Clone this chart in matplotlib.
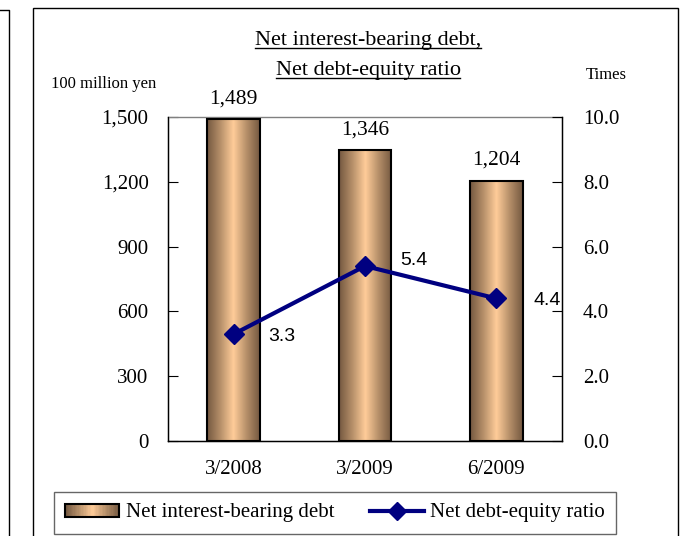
import numpy as np
import matplotlib
matplotlib.use("Agg")
import matplotlib.pyplot as plt
from matplotlib.lines import Line2D
from matplotlib.patches import Rectangle, Patch
from matplotlib.legend_handler import HandlerBase
from matplotlib.colors import LinearSegmentedColormap

# data
periods = ["3/2008", "3/2009", "6/2009"]
debt = [1489, 1346, 1204]          # 100 million yen
ratio = [3.3, 5.4, 4.4]            # times
left_ticks = [0, 300, 600, 900, 1200, 1500]
right_ticks = [0.0, 2.0, 4.0, 6.0, 8.0, 10.0]

SERIF = "Liberation Serif"
SANS = "Liberation Sans"
NAVY = "#000080"

W, H = 687, 536
fig = plt.figure(figsize=(W / 100, H / 100), dpi=100)

# bar gradient: dark edges, light peach centre
grad_cmap = LinearSegmentedColormap.from_list(
    "peach", ["#745840", "#b58f69", "#ffcc99", "#b58f69", "#745840"])
grad = np.linspace(0, 1, 256).reshape(1, -1)

ax = fig.add_axes([168 / W, 1 - 441 / H, (562 - 168) / W, (441 - 117) / H])
x = np.arange(len(periods))
bars = ax.bar(x, debt, width=0.40, facecolor="none", edgecolor="black",
              linewidth=1.5, zorder=3)
for b in bars:
    ax.imshow(grad, cmap=grad_cmap, aspect="auto", zorder=2,
              extent=(b.get_x(), b.get_x() + b.get_width(), 0, b.get_height()))
ax.set_xlim(-0.5, len(periods) - 0.5)
ax.set_ylim(0, 1500)
ax.set_yticks(left_ticks)
ax.set_yticklabels([f"{v:,}" for v in left_ticks], family=SERIF, fontsize=15)
ax.set_xticks(x)
ax.set_xticklabels(periods, family=SERIF, fontsize=15)
ax.tick_params(axis="y", direction="in", length=7, pad=14)
ax.tick_params(axis="x", length=0, pad=14)
ax.spines["top"].set_color("#808080")
for s in ax.spines.values():
    s.set_linewidth(1)

for xi, v in zip(x, debt):
    ax.annotate(f"{v:,}", (xi, v), xytext=(0, 8), textcoords="offset points",
                ha="center", va="bottom", family=SERIF, fontsize=15.5)

ax2 = ax.twinx()
ax2.plot(x, ratio, color=NAVY, linewidth=3, marker="D", markersize=10, zorder=4)
ax2.set_ylim(0, 10)
ax2.set_yticks(right_ticks)
ax2.set_yticklabels([f"{v:.1f}" for v in right_ticks], family=SERIF, fontsize=15)
ax2.tick_params(axis="y", direction="in", length=7, pad=15)
ax2.spines["right"].set_color("black")
ax2.spines["top"].set_visible(False)

label_offsets = [(25, -2), (25.5, 4.3), (27, -1.5)]
for xi, v, off in zip(x, ratio, label_offsets):
    ax2.annotate(f"{v:.1f}", (xi, v), xytext=off, textcoords="offset points",
                 ha="left", va="center", family=SANS, fontsize=14)

# axis unit labels
fig.text(104 / W, 1 - 84 / H, "100 million yen", ha="center", va="center",
         family=SERIF, fontsize=12)
fig.text(606 / W, 1 - 75 / H, "Times", ha="center", va="center",
         family=SERIF, fontsize=12)

# underlined two-line title
titles = ["Net interest-bearing debt,", "Net debt-equity ratio"]
title_y = [40, 70]
fig.canvas.draw()
renderer = fig.canvas.get_renderer()
for t, yy in zip(titles, title_y):
    txt = fig.text(368 / W, 1 - yy / H, t, ha="center", va="center",
                   family=SERIF, fontsize=16)
    bb = txt.get_window_extent(renderer)
    uy = (bb.y0 + 2) / H
    fig.add_artist(Line2D([bb.x0 / W, bb.x1 / W], [uy, uy], color="black",
                          linewidth=1, transform=fig.transFigure))

# outer frames
fig.add_artist(Rectangle((33 / W, -0.05), (678 - 33) / W, 1.05 - 8 / H,
                         transform=fig.transFigure, fill=False,
                         edgecolor="black", linewidth=1))
fig.add_artist(Line2D([0, 9 / W, 9 / W], [1 - 10 / H, 1 - 10 / H, -0.05],
                      color="black", linewidth=1, transform=fig.transFigure))


class GradientHandler(HandlerBase):
    def create_artists(self, legend, orig_handle, xdescent, ydescent,
                       width, height, fontsize, trans):
        n = 40
        arts = []
        for i in range(n):
            c = grad_cmap((i + 0.5) / n)
            arts.append(Rectangle((-xdescent + width * i / n, -ydescent),
                                  width / n + 0.3, height, facecolor=c,
                                  edgecolor="none", transform=trans))
        arts.append(Rectangle((-xdescent, -ydescent), width, height,
                              facecolor="none", edgecolor="black",
                              linewidth=1.5, transform=trans))
        return arts


bar_handle = Patch(label="Net interest-bearing debt")
line_handle = Line2D([], [], color=NAVY, linewidth=3, marker="D",
                     markersize=9, label="Net debt-equity ratio")
leg = fig.legend(handles=[bar_handle, line_handle], ncol=2,
                 handler_map={Patch: GradientHandler()},
                 loc="center", bbox_to_anchor=((56 + 614) / 2 / W, 1 - 513 / H),
                 prop={"family": SERIF, "size": 15}, frameon=True,
                 fancybox=False, edgecolor="#404040", handlelength=2.6,
                 handleheight=0.6, handletextpad=0.3, columnspacing=1.7,
                 borderpad=0.55)
leg.get_frame().set_linewidth(1)

fig.savefig("out.png", dpi=100)
